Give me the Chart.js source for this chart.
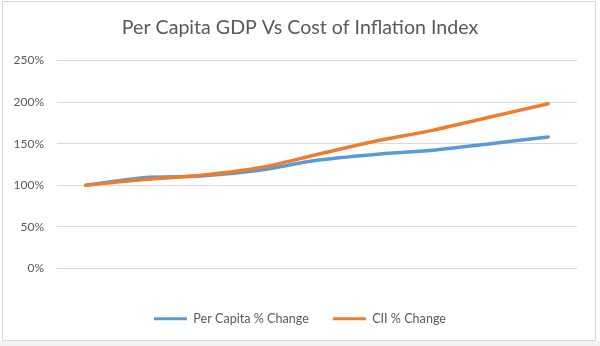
<!DOCTYPE html>
<html>
<head>
<meta charset="utf-8">
<script src="https://cdn.jsdelivr.net/npm/chart.js@4/dist/chart.umd.min.js"></script>
<style>
  html, body { margin: 0; padding: 0; background: #ffffff; }
  #wrap { position: absolute; left: 0; top: 0; width: 600px; height: 346px; }
  #frame { position: absolute; left: 2px; top: 1px; width: 592px; height: 338px; border: 1px solid #d9d9d9; pointer-events: none; }
  #shade { position: absolute; left: 0; top: 341px; width: 600px; height: 5px; background: #f2f2f2; }
</style>
</head>
<body>
<div id="wrap">
  <canvas id="c" width="600" height="346"></canvas>
  <div id="frame"></div>
  <div id="shade"></div>
</div>
<script>
const categories = ['1', '2', '3', '4', '5', '6', '7', '8', '9'];
const perCapitaChange = [100, 109, 111, 118, 130, 137, 142, 150, 158];
const ciiChange = [100, 107, 112, 121, 137, 153, 166, 182, 198];
const seriesNames = ['Per Capita % Change', 'CII % Change'];
const yTicks = { min: 0, max: 250, step: 50 };

const textColor = '#595959';
const fontFamily = 'Lato, "Open Sans", "Liberation Sans", sans-serif';

new Chart(document.getElementById('c'), {
  type: 'line',
  data: {
    labels: categories,
    datasets: [
      { label: seriesNames[0], data: perCapitaChange, borderColor: '#5b9bd5', backgroundColor: '#5b9bd5',
        borderWidth: 3.5, pointRadius: 0, tension: 0.3, order: 1, borderCapStyle: 'round', yAxisID: 'y' },
      { label: seriesNames[1], data: ciiChange, borderColor: '#ed7d31', backgroundColor: '#ed7d31',
        borderWidth: 3.5, pointRadius: 0, tension: 0.3, order: 0, borderCapStyle: 'round', yAxisID: 'y' }
    ]
  },
  options: {
    responsive: false,
    animation: false,
    layout: { padding: { left: 0, right: 0, top: 0, bottom: 11 } },
    plugins: {
      tooltip: { enabled: false },
      title: {
        display: true,
        text: 'Per Capita GDP Vs Cost of Inflation Index',
        color: textColor,
        font: { family: fontFamily, size: 19.6, weight: 'normal' },
        padding: { top: 16, bottom: 21 }
      },
      legend: {
        position: 'bottom',
        labels: {
          color: textColor,
          font: { family: fontFamily, size: 12.6 },
          boxWidth: 33,
          boxHeight: 3,
          padding: 24,
          sort: (a, b) => a.datasetIndex - b.datasetIndex,
          generateLabels: (chart) => chart.data.datasets.map((ds, i) => ({
            text: ds.label, fillStyle: ds.borderColor, strokeStyle: ds.borderColor,
            lineWidth: 0, datasetIndex: i, fontColor: textColor, hidden: false
          }))
        }
      }
    },
    scales: {
      x: {
        offset: true,
        grid: { display: false },
        border: { display: false },
        ticks: { color: textColor, font: { family: fontFamily, size: 12 }, padding: 11 },
        afterFit: (axis) => { axis.height = 20; }
      },
      y: {
        min: yTicks.min,
        max: yTicks.max,
        grid: { color: '#d9d9d9', drawTicks: false, lineWidth: 1 },
        border: { display: false },
        ticks: {
          stepSize: yTicks.step,
          color: textColor,
          font: { family: fontFamily, size: 12 },
          padding: 13,
          callback: (v) => v + '%'
        },
        afterFit: (axis) => { axis.width = 57; }
      },
      yRight: {
        position: 'right',
        display: true,
        grid: { display: false, drawTicks: false },
        border: { display: false },
        ticks: { display: false },
        afterFit: (axis) => { axis.width = 23; }
      }
    }
  }
});
</script>
</body>
</html>
